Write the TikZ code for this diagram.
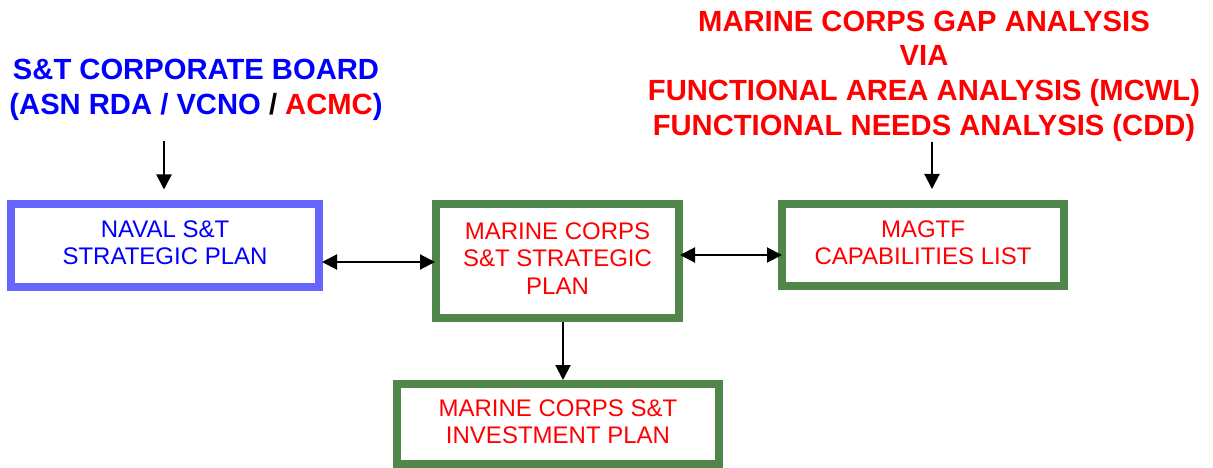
\documentclass[tikz,border=0pt]{standalone}
\usepackage{fontspec}
\setmainfont{Liberation Sans}
\usetikzlibrary{arrows.meta}
\definecolor{boxblue}{RGB}{102,102,255}
\definecolor{boxgreen}{RGB}{80,134,74}
\definecolor{txtblue}{RGB}{0,0,255}
\definecolor{txtred}{RGB}{255,0,0}
\tikzset{
  box/.style={draw, line width=8pt, align=center, inner sep=0pt,
    font=\fontsize{24pt}{27.3pt}\selectfont},
  bluebox/.style={box, draw=boxblue, text=txtblue},
  greenbox/.style={box, draw=boxgreen, text=txtred},
  title/.style={align=center, font=\fontsize{29.2pt}{34.6pt}\selectfont\bfseries, inner sep=0pt},
  arr/.style={line width=2pt, -{Triangle[length=15pt,width=15pt]}},
  darr/.style={line width=2pt, {Triangle[length=15pt,width=15pt]}-{Triangle[length=15pt,width=15pt]}}
}
\begin{document}
\begin{tikzpicture}[x=1pt,y=-1pt]
\useasboundingbox (0,0) rectangle (1213,468);
% titles
\node[title, text=txtblue] (bt) at (196,90) {S\&T CORPORATE BOARD\\(ASN RDA / VCNO {\color{black}/} {\color{txtred}ACMC})};
\node[title, text=txtred] (rt) at (924,76) {MARINE CORPS GAP ANALYSIS\\VIA\\FUNCTIONAL AREA ANALYSIS (MCWL)\\FUNCTIONAL NEEDS ANALYSIS (CDD)};
% boxes
\node[bluebox, minimum width=308pt, minimum height=83.5pt] (naval) at (165,245.25) {NAVAL S\&T\\STRATEGIC PLAN\vphantom{g}};
\node[greenbox, minimum width=243pt, minimum height=114pt] (mc) at (557.5,261) {MARINE CORPS\\S\&T STRATEGIC\\PLAN\vphantom{g}};
\node[greenbox, minimum width=282pt, minimum height=82pt] (magtf) at (923,245) {MAGTF\\CAPABILITIES LIST\vphantom{g}};
\node[greenbox, minimum width=322pt, minimum height=80pt] (inv) at (558,424) {MARINE CORPS S\&T\\INVESTMENT PLAN\vphantom{g}};
% connectors
\coordinate (s1) at (164,141);
\coordinate (s2) at (932,142);
\draw[arr, shorten >=10pt] (s1) -- (s1 |- naval.north);
\draw[arr, shorten >=11pt] (s2) -- (s2 |- magtf.north);
\coordinate (h1) at (0,262);
\coordinate (h2) at (0,255);
\coordinate (v1) at (563,0);
\draw[darr, shorten >=-3pt, shorten <=-1pt] (naval.east |- h1) -- (mc.west |- h1);
\draw[darr, shorten >=-4pt, shorten <=-3pt] (mc.east |- h2) -- (magtf.west |- h2);
\draw[arr] (mc.south -| v1) -- (inv.north -| v1);
\end{tikzpicture}
\end{document}
